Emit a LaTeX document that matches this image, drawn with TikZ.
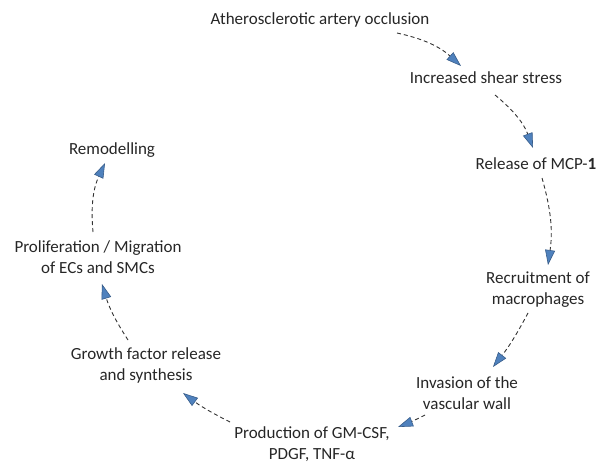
\documentclass[tikz,border=0pt]{standalone}
\usepackage{fontspec}
\setmainfont{Carlito}
\usetikzlibrary{arrows.meta,calc}
\definecolor{ablue}{HTML}{4F81BD}
\definecolor{abluedark}{HTML}{385D8A}
\definecolor{txt}{HTML}{262626}
\begin{document}
\begin{tikzpicture}[x=1pt,y=-1pt,
  lab/.style={inner sep=1pt,align=center,text=txt,font=\fontsize{17}{21}\selectfont},
  flow/.style={draw=black!80,line width=0.9pt,dash pattern=on 4pt off 3pt,
    -{Triangle[length=15pt,width=10pt,color=abluedark,fill=ablue,line width=0.6pt]}}]
\useasboundingbox (0,0) rectangle (599,465);
\node[lab] (n1) at (320,20) {Atherosclerotic artery occlusion};
\node[lab] (n2) at (486,78) {Increased shear stress};
\node[lab] (n3) at (536,164) {Release of MCP-\textbf{1}};
\node[lab] (n4) at (538,290) {Recruitment of\\macrophages};
\node[lab] (n5) at (467,393) {Invasion of the\\vascular wall};
\node[lab] (n6) at (312,444) {Production of GM-CSF,\\PDGF, TNF-α};
\node[lab] (n7) at (146,365) {Growth factor release\\and synthesis};
\node[lab] (n8) at (98,257) {Proliferation / Migration\\of ECs and SMCs};
\node[lab] (n9) at (112,150) {Remodelling};
\draw[flow] ($(n1)+(77,13)$) to[bend left=15] ($(n2)+(-25,-12)$);
\draw[flow] ($(n2)+(9,17)$) to[bend left=15] ($(n3)+(-3,-16)$);
\draw[flow] ($(n3)+(6,14)$) to[bend left=12] ($(n4)+(10,-25)$);
\draw[flow] ($(n4)+(-10,23)$) to[bend left=5] ($(n5)+(26,-26)$);
\draw[flow] ($(n5)+(-42,22)$) to[bend left=3] ($(n6)+(86,-17)$);
\draw[flow] ($(n6)+(-82,-22)$) to[bend left=5] ($(n7)+(37,28)$);
\draw[flow] ($(n7)+(-18,-25)$) to[bend left=8] ($(n8)+(4,27)$);
\draw[flow] ($(n8)+(-5,-25)$) to[bend left=15] ($(n9)+(-7,13)$);
\end{tikzpicture}
\end{document}
